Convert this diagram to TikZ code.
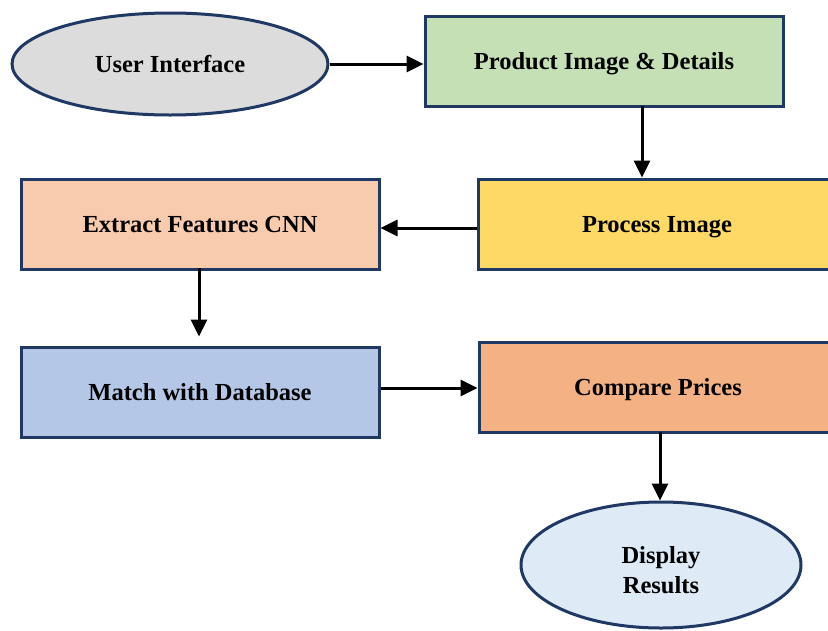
\documentclass[tikz,border=0pt]{standalone}
\usepackage{fontspec}
\setmainfont{Liberation Serif}
\usetikzlibrary{shapes.geometric,arrows.meta}
\definecolor{edgeblue}{HTML}{1F3864}
\definecolor{uigray}{HTML}{DCDCDC}
\definecolor{prodgreen}{HTML}{C5E0B4}
\definecolor{procyellow}{HTML}{FED966}
\definecolor{featpeach}{HTML}{F8CBAD}
\definecolor{matchblue}{HTML}{B4C7E7}
\definecolor{priceorange}{HTML}{F4B183}
\definecolor{resultblue}{HTML}{DEEBF7}

\begin{document}
\begin{tikzpicture}[x=1pt,y=-1pt]
\tikzstyle{stepbox}=[draw=edgeblue,line width=3pt,rectangle,minimum width=358pt,minimum height=90pt,inner sep=0pt,text depth=0pt,font=\fontsize{24.5}{29}\selectfont\bfseries]
\tikzstyle{terminal}=[draw=edgeblue,line width=3pt,ellipse,inner sep=0pt,align=center,text depth=0pt,font=\fontsize{24.5}{30}\selectfont\bfseries]
\tikzstyle{flow}=[line width=3pt,-{Triangle[width=16pt,length=17pt]}]
\useasboundingbox (0,0) rectangle (828,630);
\clip (0,0) rectangle (828,630);
\node[terminal,fill=uigray,minimum width=316pt,minimum height=102pt] (ui) at (170,64) {User Interface};
\node[stepbox,fill=prodgreen] (prod) at (604,61) {Product Image \& Details};
\node[stepbox,fill=procyellow] (proc) at (657,224) {Process Image};
\node[stepbox,fill=featpeach] (feat) at (200,224) {Extract Features CNN};
\node[stepbox,fill=matchblue] (match) at (200,392) {Match with Database};
\node[stepbox,fill=priceorange] (price) at (658,387) {Compare Prices};
\node[terminal,fill=resultblue,minimum width=280pt,minimum height=126pt,text height=57pt] (res) at (661,565) {Display\\Results};
\coordinate (c1) at (642,106);
\coordinate (c2) at (199,268);
\coordinate (c3) at (660,432);
\draw[flow] (ui.east) -- (prod.west |- ui.east);
\draw[flow] (c1) -- (c1 |- proc.north);
\draw[flow] (proc.west |- 0,228) -- (feat.east |- 0,228);
\draw[flow] (c2) -- ([yshift=9pt]c2 |- match.north);
\draw[flow] (match.east |- 0,388) -- (price.west |- 0,388);
\draw[flow] (c3) -- (c3 |- res.north);
\end{tikzpicture}
\end{document}
